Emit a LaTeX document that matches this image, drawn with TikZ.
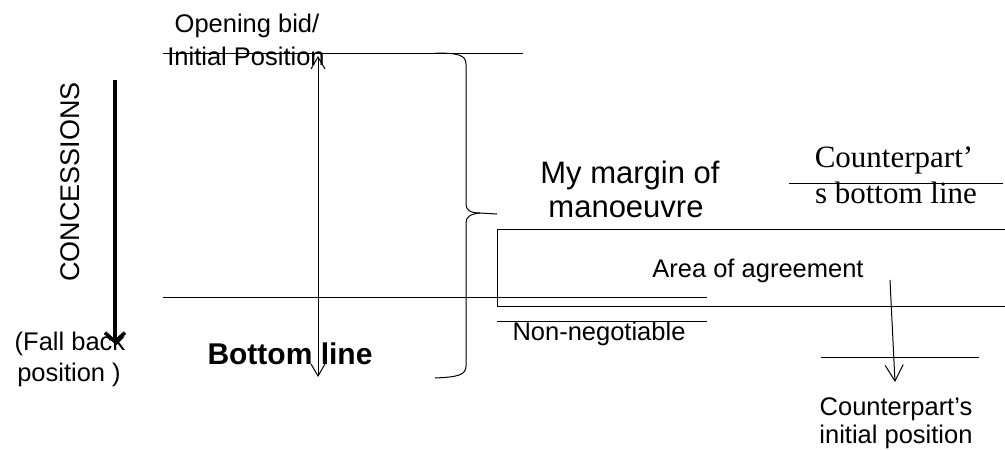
\documentclass[tikz,border=0pt]{standalone}
\usepackage{fontspec}
\setmainfont{Liberation Sans}
\newfontfamily\timesfont{Liberation Serif}
\usetikzlibrary{arrows.meta}
\tikzset{
  openhead/.tip={Straight Barb[length=12pt,width=14pt]},
  bighead/.tip={Straight Barb[length=16pt,width=18pt]}
}
\begin{document}
\begin{tikzpicture}[x=1pt,y=-1pt,
  rule/.style={line width=1pt},
  lbl/.style={inner sep=0pt, anchor=base, font=\fontsize{25.5}{30}\selectfont},
  biglbl/.style={inner sep=0pt, anchor=base, font=\fontsize{31}{36}\selectfont},
  seriflbl/.style={inner sep=0pt, anchor=base, font=\timesfont\fontsize{31}{36}\selectfont},
  boldlbl/.style={inner sep=0pt, anchor=base, font=\bfseries\fontsize{30}{36}\selectfont}
]
\useasboundingbox (0,0) rectangle (1005,450);

% --- my own position ---------------------------------------------
\coordinate (bidL) at (163,53);
\coordinate (bidR) at (523,53);
\coordinate (blineL) at (163,297);
\coordinate (blineR) at (707,297);
\coordinate (spanTop) at (318,56);
\coordinate (spanBot) at (318,377);

\node[lbl] (open1) at (247,32) {Opening bid/};
\node[lbl] (open2) at (246,65) {Initial Position};
\draw[rule] (bidL) -- (bidR);
\draw[rule] (blineL) -- (blineR);
\draw[rule, openhead-openhead] (spanTop) -- (spanBot);
\node[boldlbl] (bline) at (290,364) {Bottom line};

% concessions arrow
\coordinate (concTop) at (115,80);
\coordinate (concBot) at (115,344);
\draw[line width=3.5pt, -{Straight Barb[length=9pt,width=20pt]}] (concTop) -- (concBot);
\node[inner sep=0pt, rotate=90, font=\fontsize{27}{30}\selectfont] (conc) at (70,182) {CONCESSIONS};
\node[lbl] (fall1) at (70,350) {(Fall back};
\node[lbl] (fall2) at (69,381) {position )};

% brace marking the margin of manoeuvre
\draw[rule] (435,53) .. controls (458,53) and (466,55) .. (466,64)
  -- (466,204) .. controls (466,210) and (470,213) .. (480,213) -- (497,214);
\draw[rule] (480,213) .. controls (470,214) and (466,217) .. (466,223)
  -- (466,366) .. controls (466,375) and (458,377) .. (435,378);
\node[biglbl] (marg1) at (630,183) {My margin of};
\node[biglbl] (marg2) at (626,217) {manoeuvre};

% --- area of agreement -------------------------------------------
\draw[rule] (1010,229) -| (497,306) -- (1010,306);
\node[lbl] (area) at (758,277) {Area of agreement};
\coordinate (nnL) at (497,321);
\coordinate (nnR) at (707,321);
\draw[rule] (nnL) -- (nnR);
\node[lbl] (nonneg) at (599,340) {Non-negotiable};

% --- counterpart -------------------------------------------------
\node[seriflbl] (cp1) at (894,167) {Counterpart’};
\node[seriflbl] (cp2) at (896,203) {s bottom line};
\coordinate (cpL) at (789,183);
\coordinate (cpR) at (1003,183);
\draw[rule] (cpL) -- (cpR);

\coordinate (cArrTop) at (890,280);
\coordinate (cArrBot) at (895,382);
\draw[rule, -bighead] (cArrTop) -- (cArrBot);
\coordinate (ciL) at (821,357);
\coordinate (ciR) at (979,357);
\draw[rule] (ciL) -- (ciR);
\node[lbl] (ci1) at (896,415) {Counterpart’s};
\node[lbl] (ci2) at (896,443) {initial position};
\end{tikzpicture}
\end{document}
